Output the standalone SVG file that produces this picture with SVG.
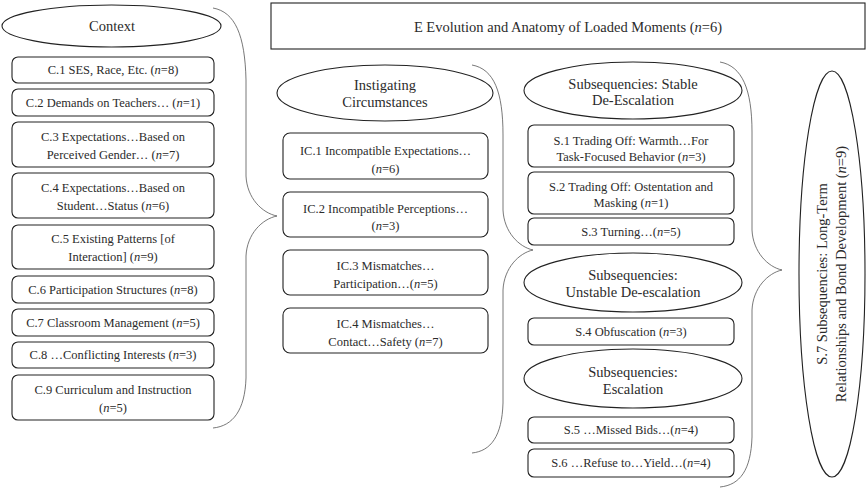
<svg xmlns="http://www.w3.org/2000/svg" width="868" height="488" viewBox="0 0 868 488">
<style>
text{font-family:"Liberation Serif","Times New Roman",serif;fill:#2b2b2b;text-anchor:middle}
.b{font-size:12.5px}
.t{font-size:14.5px}
.box{fill:#fff;stroke:#222;stroke-width:1.1}
.ell{fill:#fff;stroke:#222;stroke-width:1.1}
.brace{fill:none;stroke:#555;stroke-width:0.8}
.i{font-style:italic}
</style>
<rect width="868" height="488" fill="#fff"/>
<g id="connectors">
<path class="brace" d="M213,8 C235,12 245,35 246,80 L246,176 C247,198 262,213 277,216 C262,219 247,234 246,256 L246,378 C245,410 233,426 213,428"/>
<path class="brace" d="M472,65 C494,69 503,92 503,135 L503,210 C504,232 519,247 533,250 C519,253 504,268 503,290 L503,403 C502,436 491,451 472,453"/>
<path class="brace" d="M720,62 C742,66 752,89 752,132 L752,230 C753,252 768,267 782,270 C768,273 753,288 752,310 L752,437 C751,470 740,485 720,487"/>
</g>
<g id="context">
<ellipse class="ell" cx="111.5" cy="26" rx="109.5" ry="21"/>
<text class="t" x="112" y="31">Context</text>
</g>
<g id="c1"><rect class="box" x="12" y="57" width="202" height="26" rx="6"/><text class="b" x="113" y="74">C.1 SES, Race, Etc. (<tspan class="i">n</tspan>=8)</text></g>
<g id="c2"><rect class="box" x="12" y="89" width="202" height="27" rx="6"/><text class="b" x="113" y="106.5">C.2 Demands on Teachers… (<tspan class="i">n</tspan>=1)</text></g>
<g id="c3"><rect class="box" x="12" y="122" width="202" height="45" rx="6"/><text class="b" x="113" y="141">C.3 Expectations…Based on</text><text class="b" x="113" y="159">Perceived Gender… (<tspan class="i">n</tspan>=7)</text></g>
<g id="c4"><rect class="box" x="12" y="173" width="202" height="45" rx="6"/><text class="b" x="113" y="192">C.4 Expectations…Based on</text><text class="b" x="113" y="210">Student…Status (<tspan class="i">n</tspan>=6)</text></g>
<g id="c5"><rect class="box" x="12" y="225" width="202" height="44" rx="6"/><text class="b" x="113" y="243">C.5 Existing Patterns [of</text><text class="b" x="113" y="261">Interaction] (<tspan class="i">n</tspan>=9)</text></g>
<g id="c6"><rect class="box" x="12" y="276" width="202" height="27" rx="6"/><text class="b" x="113" y="293.5">C.6 Participation Structures (<tspan class="i">n</tspan>=8)</text></g>
<g id="c7"><rect class="box" x="12" y="309" width="202" height="27" rx="6"/><text class="b" x="113" y="326.5">C.7 Classroom Management (<tspan class="i">n</tspan>=5)</text></g>
<g id="c8"><rect class="box" x="12" y="342" width="202" height="26" rx="6"/><text class="b" x="113" y="359">C.8 …Conflicting Interests (<tspan class="i">n</tspan>=3)</text></g>
<g id="c9"><rect class="box" x="12" y="375" width="202" height="45" rx="6"/><text class="b" x="113" y="394">C.9 Curriculum and Instruction</text><text class="b" x="113" y="412">(<tspan class="i">n</tspan>=5)</text></g>
<g id="e"><rect x="271" y="3" width="594" height="46" fill="#fff" stroke="#222" stroke-width="1.1"/><text class="t" x="568" y="31.5">E Evolution and Anatomy of Loaded Moments (<tspan class="i">n</tspan>=6)</text></g>
<g id="instigating">
<ellipse class="ell" cx="385" cy="93" rx="108" ry="28"/>
<text class="t" x="385" y="90">Instigating</text><text class="t" x="385" y="107">Circumstances</text>
</g>
<g id="ic1"><rect class="box" x="283" y="133" width="205" height="46" rx="7"/><text class="b" x="385.5" y="155">IC.1 Incompatible Expectations…</text><text class="b" x="385.5" y="173">(<tspan class="i">n</tspan>=6)</text></g>
<g id="ic2"><rect class="box" x="283" y="192" width="205" height="45" rx="7"/><text class="b" x="385.5" y="212.5">IC.2 Incompatible Perceptions…</text><text class="b" x="385.5" y="229.5">(<tspan class="i">n</tspan>=3)</text></g>
<g id="ic3"><rect class="box" x="283" y="250" width="205" height="45" rx="7"/><text class="b" x="385.5" y="270">IC.3 Mismatches…</text><text class="b" x="385.5" y="287.5">Participation…(<tspan class="i">n</tspan>=5)</text></g>
<g id="ic4"><rect class="box" x="283" y="308" width="205" height="45" rx="7"/><text class="b" x="385.5" y="328">IC.4 Mismatches…</text><text class="b" x="385.5" y="345.5">Contact…Safety (<tspan class="i">n</tspan>=7)</text></g>
<g id="stable">
<ellipse class="ell" cx="633" cy="90.5" rx="109" ry="28.5"/>
<text class="t" x="633" y="89">Subsequencies: Stable</text><text class="t" x="633" y="105">De-Escalation</text>
</g>
<g id="s1"><rect class="box" x="528" y="125" width="206" height="42" rx="6"/><text class="b" x="631" y="144.5">S.1 Trading Off: Warmth…For</text><text class="b" x="631" y="161">Task-Focused Behavior (<tspan class="i">n</tspan>=3)</text></g>
<g id="s2"><rect class="box" x="528" y="172" width="206" height="42" rx="6"/><text class="b" x="631" y="191">S.2 Trading Off: Ostentation and</text><text class="b" x="631" y="207">Masking (<tspan class="i">n</tspan>=1)</text></g>
<g id="s3"><rect class="box" x="528" y="218" width="206" height="27" rx="6"/><text class="b" x="631" y="235.5">S.3 Turning…(<tspan class="i">n</tspan>=5)</text></g>
<g id="unstable">
<ellipse class="ell" cx="633" cy="282.5" rx="109" ry="29.5"/>
<text class="t" x="633" y="280">Subsequencies:</text><text class="t" x="633" y="297">Unstable De-escalation</text>
</g>
<g id="s4"><rect class="box" x="528" y="318" width="206" height="27" rx="6"/><text class="b" x="631" y="335.5">S.4 Obfuscation (<tspan class="i">n</tspan>=3)</text></g>
<g id="escalation">
<ellipse class="ell" cx="633" cy="378.5" rx="109" ry="29.5"/>
<text class="t" x="633" y="377">Subsequencies:</text><text class="t" x="633" y="393.5">Escalation</text>
</g>
<g id="s5"><rect class="box" x="528" y="417" width="206" height="26" rx="6"/><text class="b" x="631" y="434">S.5 …Missed Bids…(<tspan class="i">n</tspan>=4)</text></g>
<g id="s6"><rect class="box" x="528" y="449" width="206" height="28" rx="6"/><text class="b" x="631" y="467">S.6 …Refuse to…Yield…(<tspan class="i">n</tspan>=4)</text></g>
<g id="s7">
<ellipse class="ell" cx="832" cy="274" rx="33" ry="203"/>
<g transform="translate(832,274) rotate(-90)">
<text class="t" x="0" y="-5">S.7 Subsequencies: Long-Term</text>
<text class="t" x="0" y="14">Relationships and Bond Development (<tspan class="i">n</tspan>=9)</text>
</g>
</g>
</svg>
